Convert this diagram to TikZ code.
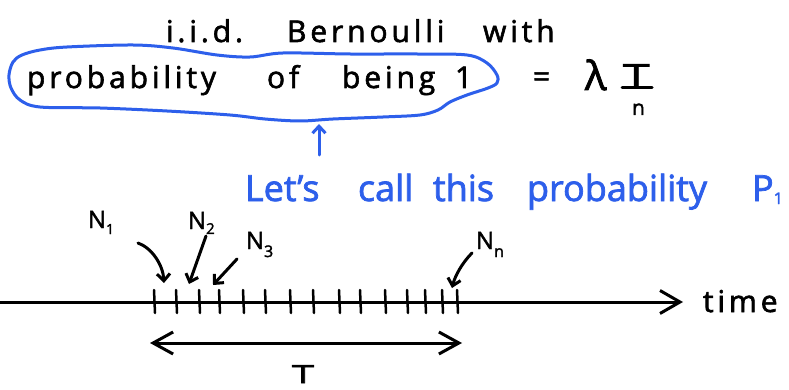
\documentclass[tikz,border=0pt]{standalone}
\usepackage{fontspec}
\setmainfont{Open Sans}
\usetikzlibrary{arrows.meta}
\definecolor{pen}{RGB}{45,95,235}
\begin{document}
\begin{tikzpicture}[x=1pt,y=-1pt,
  txt/.style={anchor=base west,inner sep=0pt,outer sep=0pt},
  hand/.style={txt,font=\fontsize{30}{32}\selectfont\addfontfeatures{LetterSpace=13,FakeBold=2}},
  bluehand/.style={txt,text=pen,font=\fontsize{36}{38}\selectfont\addfontfeatures{FakeBold=2}},
  nlab/.style={txt,font=\fontsize{24}{25}\selectfont\addfontfeatures{FakeBold=2}},
  ink/.style={line width=3pt,line cap=round,line join=round},
  tick/.style={line width=2.5pt,line cap=round},
  sarrow/.style={ink,-{Straight Barb[length=7pt,width=13pt]}},
  barrow/.style={ink,{Straight Barb[length=20pt,width=22pt]}-{Straight Barb[length=20pt,width=22pt]}}
]
\useasboundingbox (0,0) rectangle (789,390);
\fill[white] (0,0) rectangle (789,390);

% top text
\node[hand] (iid) at (166,42) {\makebox[121pt][l]{i.i.d.}\makebox[196pt][l]{Bernoulli}with};
\node[hand] (prob) at (27,88) {\makebox[240pt][l]{probability}\makebox[75pt][l]{of}\makebox[113pt][l]{being}1};

% loop
\draw[pen,ink] plot[smooth cycle,tension=0.55] coordinates {
 (9,75) (13,62) (22,55) (40,50) (67,47) (133,45) (173,48) (217,55) (250,57)
 (283,53) (350,54) (417,54) (467,55) (487,63) (497,75) (497,83) (488,88)
 (467,95) (450,102) (438,110) (420,115) (383,117) (333,119) (300,121)
 (265,119) (230,115) (167,111) (100,108) (40,107) (20,100) (11,88)};

% = lambda T/n
\node[txt,font=\fontsize{30}{32}\selectfont\addfontfeatures{FakeBold=2}] (eq) at (533,87) {=};
\node[txt,font=\fontsize{40}{42}\selectfont\addfontfeatures{FakeBold=2}] (lam) at (585,90) {λ};
\node[txt,font=\fontsize{32}{34}\selectfont\addfontfeatures{FakeBold=2}] (Tnum) at (623,87) {\scalebox{1.5}[1]{T}};
\draw[line width=3pt,line cap=round] (622,88) -- (652,88);
\node[txt,font=\fontsize{21}{21}\selectfont\addfontfeatures{FakeBold=2}] (nden) at (632,115) {n};

% blue arrow and text
\coordinate (bA) at (319,155);
\coordinate (bB) at (319,124);
\draw[pen,sarrow] (bA) -- (bB);
\node[bluehand] (lets) at (245,201) {\makebox[113pt][l]{Let's}\makebox[75pt][l]{call}\makebox[94pt][l]{this}\makebox[225pt][l]{probability}P\raisebox{-3pt}{\fontsize{16}{16}\selectfont 1}};

% time axis
\coordinate (axL) at (-5,302);
\coordinate (axR) at (683,302);
\draw[ink,-{Straight Barb[length=20pt,width=23pt]}] (axL) -- (axR);
\node[hand] (time) at (703,312) {time};
\foreach \x in {154,176,199,219,243,265,290,313,339,360,385,407,425,442,457}
  \draw[tick] (\x,290) -- (\x+1,313);

% N labels
\node[nlab] (n1) at (88,228) {N\raisebox{-6pt}{\fontsize{14}{14}\selectfont 1}};
\node[nlab] (n2) at (188,229) {N\raisebox{-5pt}{\fontsize{15}{15}\selectfont 2}};
\node[nlab] (n3) at (246,249) {N\raisebox{-8pt}{\fontsize{16}{16}\selectfont 3}};
\node[nlab] (nn) at (476,249) {N\raisebox{-8pt}{\fontsize{16}{16}\selectfont n}};

\coordinate (a1s) at (138,243);
\coordinate (a1e) at (164,283);
\coordinate (a2s) at (206,236);
\coordinate (a2e) at (189,284);
\coordinate (a3s) at (237,259);
\coordinate (a3e) at (213,285);
\coordinate (ans) at (472,253);
\coordinate (ane) at (452,288);
\draw[sarrow] (a1s) .. controls (152,248) and (163,265) .. (a1e);
\draw[sarrow] (a2s) -- (a2e);
\draw[sarrow] (a3s) -- (a3e);
\draw[sarrow] (ans) .. controls (462,263) and (455,276) .. (ane);

% interval T
\coordinate (tL) at (150,343);
\coordinate (tR) at (462,343);
\draw[barrow] (tL) -- (tR);
\node[txt,font=\fontsize{25}{26}\selectfont\addfontfeatures{FakeBold=2}] (Tlab) at (292,383) {\scalebox{1.6}[1]{T}};
\end{tikzpicture}
\end{document}
